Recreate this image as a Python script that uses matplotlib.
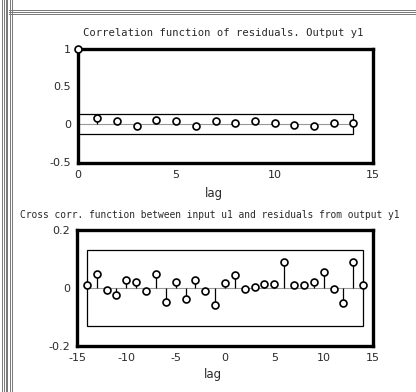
import matplotlib.pyplot as plt
from matplotlib.lines import Line2D
from matplotlib.patches import Rectangle

plt.rcParams["axes.unicode_minus"] = False

# autocorrelation of residuals, lags 0..14
auto_lags = list(range(0, 15))
auto_vals = [1.0, 0.085, 0.045, -0.025, 0.055, 0.035, -0.025, 0.035,
             0.02, 0.035, 0.02, -0.01, -0.02, 0.01, 0.015]
auto_conf = 0.13

# cross correlation input u1 / residuals, lags -14..14
cross_lags = list(range(-14, 15))
cross_vals = [0.012, 0.049, -0.006, -0.023, 0.029, 0.021, -0.009, 0.049,
              -0.049, 0.02, -0.037, 0.026, -0.009, -0.058, 0.018, 0.044,
              -0.002, 0.002, 0.014, 0.014, 0.091, 0.012, 0.012, 0.021,
              0.056, -0.002, -0.053, 0.088, 0.009]
cross_conf = 0.13

TXT = "#2a2a2a"

fig = plt.figure(figsize=(4.16, 3.92), dpi=100)
W, H = 416, 392


def px_axes(left, top, right, bottom):
    return fig.add_axes([left / W, 1 - bottom / H, (right - left) / W,
                         (bottom - top) / H])


def draw_stems(ax, lags, vals, conf):
    lo, hi = lags[0], lags[-1]
    ax.add_patch(Rectangle((lo, -conf), hi - lo, 2 * conf, fill=False,
                           edgecolor="black", lw=0.9, zorder=2))
    ax.plot([lo, hi], [0, 0], color="#999999", lw=0.8, zorder=1)
    ax.vlines(lags, 0, vals, color="black", lw=0.9, zorder=3)
    ax.plot(lags, vals, "o", ms=5.0, mfc="white", mec="black", mew=1.2,
            zorder=4, clip_on=False)


def style(ax):
    for sp in ax.spines.values():
        sp.set_linewidth(2.4)
        sp.set_color("black")
    ax.tick_params(length=0, pad=5, labelsize=8, labelcolor=TXT)


# top panel
ax1 = px_axes(77.7, 49, 373, 163)
draw_stems(ax1, auto_lags, auto_vals, auto_conf)
ax1.set_xlim(0, 15)
ax1.set_ylim(-0.52, 1.0)
ax1.set_xticks([0, 5, 10, 15])
ax1.set_yticks([-0.5, 0, 0.5, 1])
ax1.set_yticklabels(["-0.5", "0", "0.5", "1"])
style(ax1)
ax1.set_title("Correlation function of residuals. Output y1",
              fontfamily="DejaVu Sans Mono", fontsize=7.6, color=TXT,
              pad=9, x=0.492)
ax1.set_xlabel("lag", fontsize=8.5, color=TXT)
ax1.xaxis.set_label_coords(0.46, -0.21)

# bottom panel
ax2 = px_axes(77, 230, 373, 346)
draw_stems(ax2, cross_lags, cross_vals, cross_conf)
ax2.set_xlim(-15, 15)
ax2.set_ylim(-0.2, 0.2)
ax2.set_xticks([-15, -10, -5, 0, 5, 10, 15])
ax2.set_yticks([-0.2, 0, 0.2])
ax2.set_yticklabels(["-0.2", "0", "0.2"])
style(ax2)
ax2.set_title("Cross corr. function between input u1 and residuals from output y1",
              fontfamily="DejaVu Sans Mono", fontsize=6.95, color=TXT,
              pad=9, x=0.449)
ax2.set_xlabel("lag", fontsize=8.5, color=TXT)
ax2.xaxis.set_label_coords(0.46, -0.19)

# window border
for x in [1.5, 3.5, 5.5, 7.5, 9.5, 11.5]:
    fig.add_artist(Line2D([x / W, x / W], [0, 1], color="#777777", lw=0.7,
                          transform=fig.transFigure))
for y in [9.5, 11.5, 13.5]:
    fig.add_artist(Line2D([9 / W, 1], [1 - y / H, 1 - y / H], color="#777777",
                          lw=0.7, transform=fig.transFigure))

fig.savefig("out.png", dpi=100)
